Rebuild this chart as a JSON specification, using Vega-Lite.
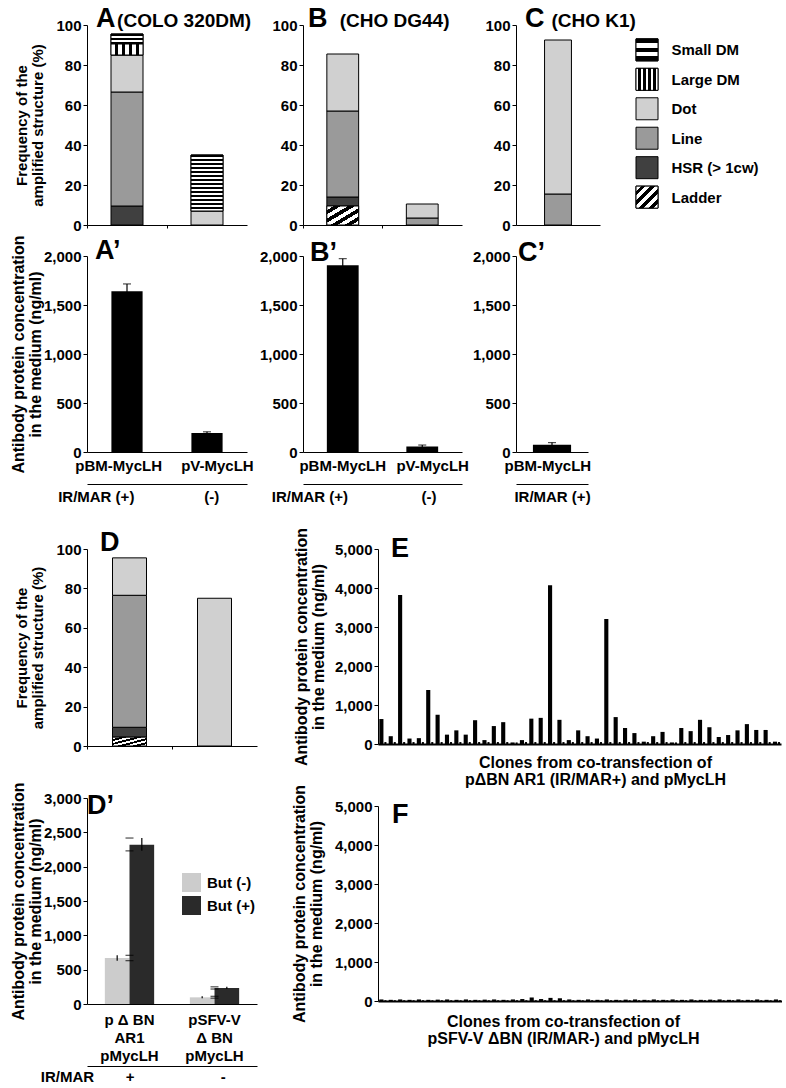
{
 "$schema": "https://vega.github.io/schema/vega-lite/v6.json",
 "background": "white",
 "padding": {"left": 10, "top": 5, "right": 0, "bottom": 0},
 "params": [
  {"name": "gSmall", "value": {"gradient": "linear", "x1": 0, "y1": 0, "x2": 0, "y2": 1, "stops": [{"offset": 0, "color": "#000"}, {"offset": 0.2, "color": "#000"}, {"offset": 0.2, "color": "#fff"}, {"offset": 0.4, "color": "#fff"}, {"offset": 0.4, "color": "#000"}, {"offset": 0.6, "color": "#000"}, {"offset": 0.6, "color": "#fff"}, {"offset": 0.8, "color": "#fff"}, {"offset": 0.8, "color": "#000"}, {"offset": 1, "color": "#000"}]}},
  {"name": "gLarge", "value": {"gradient": "linear", "x1": 0, "y1": 0, "x2": 1, "y2": 0, "stops": [{"offset": 0, "color": "#fff"}, {"offset": 0.111, "color": "#fff"}, {"offset": 0.111, "color": "#000"}, {"offset": 0.222, "color": "#000"}, {"offset": 0.222, "color": "#fff"}, {"offset": 0.333, "color": "#fff"}, {"offset": 0.333, "color": "#000"}, {"offset": 0.444, "color": "#000"}, {"offset": 0.444, "color": "#fff"}, {"offset": 0.556, "color": "#fff"}, {"offset": 0.556, "color": "#000"}, {"offset": 0.667, "color": "#000"}, {"offset": 0.667, "color": "#fff"}, {"offset": 0.778, "color": "#fff"}, {"offset": 0.778, "color": "#000"}, {"offset": 0.889, "color": "#000"}, {"offset": 0.889, "color": "#fff"}, {"offset": 1, "color": "#fff"}]}},
  {"name": "gLadder", "value": {"gradient": "linear", "x1": 0, "y1": 0, "x2": 1, "y2": 1, "stops": [{"offset": 0, "color": "#fff"}, {"offset": 0.111, "color": "#fff"}, {"offset": 0.111, "color": "#000"}, {"offset": 0.222, "color": "#000"}, {"offset": 0.222, "color": "#fff"}, {"offset": 0.333, "color": "#fff"}, {"offset": 0.333, "color": "#000"}, {"offset": 0.444, "color": "#000"}, {"offset": 0.444, "color": "#fff"}, {"offset": 0.556, "color": "#fff"}, {"offset": 0.556, "color": "#000"}, {"offset": 0.667, "color": "#000"}, {"offset": 0.667, "color": "#fff"}, {"offset": 0.778, "color": "#fff"}, {"offset": 0.778, "color": "#000"}, {"offset": 0.889, "color": "#000"}, {"offset": 0.889, "color": "#fff"}, {"offset": 1, "color": "#fff"}]}},
  {"name": "gSmall14", "value": {"gradient": "linear", "x1": 0, "y1": 0, "x2": 0, "y2": 1, "stops": [{"offset":0,"color":"#000"},{"offset":0.0357,"color":"#000"},{"offset":0.0357,"color":"#fff"},{"offset":0.0714,"color":"#fff"},{"offset":0.0714,"color":"#000"},{"offset":0.1071,"color":"#000"},{"offset":0.1071,"color":"#fff"},{"offset":0.1429,"color":"#fff"},{"offset":0.1429,"color":"#000"},{"offset":0.1786,"color":"#000"},{"offset":0.1786,"color":"#fff"},{"offset":0.2143,"color":"#fff"},{"offset":0.2143,"color":"#000"},{"offset":0.25,"color":"#000"},{"offset":0.25,"color":"#fff"},{"offset":0.2857,"color":"#fff"},{"offset":0.2857,"color":"#000"},{"offset":0.3214,"color":"#000"},{"offset":0.3214,"color":"#fff"},{"offset":0.3571,"color":"#fff"},{"offset":0.3571,"color":"#000"},{"offset":0.3929,"color":"#000"},{"offset":0.3929,"color":"#fff"},{"offset":0.4286,"color":"#fff"},{"offset":0.4286,"color":"#000"},{"offset":0.4643,"color":"#000"},{"offset":0.4643,"color":"#fff"},{"offset":0.5,"color":"#fff"},{"offset":0.5,"color":"#000"},{"offset":0.5357,"color":"#000"},{"offset":0.5357,"color":"#fff"},{"offset":0.5714,"color":"#fff"},{"offset":0.5714,"color":"#000"},{"offset":0.6071,"color":"#000"},{"offset":0.6071,"color":"#fff"},{"offset":0.6429,"color":"#fff"},{"offset":0.6429,"color":"#000"},{"offset":0.6786,"color":"#000"},{"offset":0.6786,"color":"#fff"},{"offset":0.7143,"color":"#fff"},{"offset":0.7143,"color":"#000"},{"offset":0.75,"color":"#000"},{"offset":0.75,"color":"#fff"},{"offset":0.7857,"color":"#fff"},{"offset":0.7857,"color":"#000"},{"offset":0.8214,"color":"#000"},{"offset":0.8214,"color":"#fff"},{"offset":0.8571,"color":"#fff"},{"offset":0.8571,"color":"#000"},{"offset":0.8929,"color":"#000"},{"offset":0.8929,"color":"#fff"},{"offset":0.9286,"color":"#fff"},{"offset":0.9286,"color":"#000"},{"offset":0.9643,"color":"#000"},{"offset":0.9643,"color":"#fff"},{"offset":1,"color":"#fff"}]}}
 ],
 "config": {
  "font": "Liberation Sans",
  "view": {"stroke": null},
  "axis": {"domainColor": "#000", "tickColor": "#000", "labelColor": "#000", "titleColor": "#000", "labelFontSize": 15, "labelFontWeight": "bold", "titleFontSize": 16, "titleFontWeight": "bold", "titleLineHeight": 17, "grid": false, "tickSize": 4, "labelPadding": 2, "labelAngle": 0, "labelOverlap": false, "labelLimit": 300},
  "title": {"fontSize": 27, "fontWeight": "bold", "anchor": "start", "frame": "group", "color": "#000", "subtitleColor": "#000", "subtitleFontSize": 19, "subtitleFontWeight": "bold"},
  "legend": {"labelFontSize": 15, "labelFontWeight": "bold", "labelColor": "#000", "padding": 0}
 },
 "datasets": {
  "structures": [
   {"structure": "Small DM"}, {"structure": "Large DM"}, {"structure": "Dot"}, {"structure": "Line"}, {"structure": "HSR (> 1cw)"}, {"structure": "Ladder"}
  ],
  "freq": [
   {"panel": "A", "construct": "pBM-MycLH", "structure": "HSR (> 1cw)", "start": 0, "end": 9.5},
   {"panel": "A", "construct": "pBM-MycLH", "structure": "Line", "start": 9.5, "end": 66.5},
   {"panel": "A", "construct": "pBM-MycLH", "structure": "Dot", "start": 66.5, "end": 85},
   {"panel": "A", "construct": "pBM-MycLH", "structure": "Large DM", "start": 85, "end": 90.5},
   {"panel": "A", "construct": "pBM-MycLH", "structure": "Small DM", "start": 90.5, "end": 95.5},
   {"panel": "A", "construct": "pV-MycLH", "structure": "Dot", "start": 0, "end": 7},
   {"panel": "A", "construct": "pV-MycLH", "structure": "Small DM", "start": 7, "end": 35},
   {"panel": "B", "construct": "pBM-MycLH", "structure": "Ladder", "start": 0, "end": 9.5},
   {"panel": "B", "construct": "pBM-MycLH", "structure": "HSR (> 1cw)", "start": 9.5, "end": 14},
   {"panel": "B", "construct": "pBM-MycLH", "structure": "Line", "start": 14, "end": 57},
   {"panel": "B", "construct": "pBM-MycLH", "structure": "Dot", "start": 57, "end": 85.5},
   {"panel": "B", "construct": "pV-MycLH", "structure": "Line", "start": 0, "end": 3.5},
   {"panel": "B", "construct": "pV-MycLH", "structure": "Dot", "start": 3.5, "end": 10.5},
   {"panel": "C", "construct": "pBM-MycLH", "structure": "Line", "start": 0, "end": 15.5},
   {"panel": "C", "construct": "pBM-MycLH", "structure": "Dot", "start": 15.5, "end": 92.5},
   {"panel": "D", "construct": "pΔBN AR1 pMycLH", "structure": "Ladder", "start": 0, "end": 4.5},
   {"panel": "D", "construct": "pΔBN AR1 pMycLH", "structure": "HSR (> 1cw)", "start": 4.5, "end": 9.5},
   {"panel": "D", "construct": "pΔBN AR1 pMycLH", "structure": "Line", "start": 9.5, "end": 76.5},
   {"panel": "D", "construct": "pΔBN AR1 pMycLH", "structure": "Dot", "start": 76.5, "end": 95.5},
   {"panel": "D", "construct": "pSFV-V ΔBN pMycLH", "structure": "Dot", "start": 0, "end": 75}
  ],
  "ab": [
   {"panel": "A", "construct": "pBM-MycLH", "value": 1641, "lo": 1570, "hi": 1715},
   {"panel": "A", "construct": "pV-MycLH", "value": 195, "lo": 185, "hi": 206},
   {"panel": "B", "construct": "pBM-MycLH", "value": 1905, "lo": 1835, "hi": 1973},
   {"panel": "B", "construct": "pV-MycLH", "value": 55, "lo": 40, "hi": 71},
   {"panel": "C", "construct": "pBM-MycLH", "value": 75, "lo": 55, "hi": 96}
  ],
  "dprime": [
   {"construct": "pΔBN AR1 pMycLH", "butyrate": "But (-)", "value": 670, "lo": 631, "hi": 709},
   {"construct": "pΔBN AR1 pMycLH", "butyrate": "But (+)", "value": 2320, "lo": 2230, "hi": 2417},
   {"construct": "pSFV-V ΔBN pMycLH", "butyrate": "But (-)", "value": 97, "lo": 85, "hi": 112},
   {"construct": "pSFV-V ΔBN pMycLH", "butyrate": "But (+)", "value": 233, "lo": 218, "hi": 250}
  ],
  "E": [
   {"clone": 1, "kind": "main", "value": 640}, {"clone": 1, "kind": "stub", "value": 50},
   {"clone": 2, "kind": "main", "value": 200}, {"clone": 2, "kind": "stub", "value": 50},
   {"clone": 3, "kind": "main", "value": 3820}, {"clone": 3, "kind": "stub", "value": 50},
   {"clone": 4, "kind": "main", "value": 140}, {"clone": 4, "kind": "stub", "value": 50},
   {"clone": 5, "kind": "main", "value": 150}, {"clone": 5, "kind": "stub", "value": 50},
   {"clone": 6, "kind": "main", "value": 1385}, {"clone": 6, "kind": "stub", "value": 50},
   {"clone": 7, "kind": "main", "value": 750}, {"clone": 7, "kind": "stub", "value": 50},
   {"clone": 8, "kind": "main", "value": 240}, {"clone": 8, "kind": "stub", "value": 50},
   {"clone": 9, "kind": "main", "value": 350}, {"clone": 9, "kind": "stub", "value": 50},
   {"clone": 10, "kind": "main", "value": 240}, {"clone": 10, "kind": "stub", "value": 50},
   {"clone": 11, "kind": "main", "value": 610}, {"clone": 11, "kind": "stub", "value": 50},
   {"clone": 12, "kind": "main", "value": 100}, {"clone": 12, "kind": "stub", "value": 50},
   {"clone": 13, "kind": "main", "value": 460}, {"clone": 13, "kind": "stub", "value": 50},
   {"clone": 14, "kind": "main", "value": 560}, {"clone": 14, "kind": "stub", "value": 50},
   {"clone": 15, "kind": "main", "value": 40}, {"clone": 15, "kind": "stub", "value": 40},
   {"clone": 16, "kind": "main", "value": 100}, {"clone": 16, "kind": "stub", "value": 50},
   {"clone": 17, "kind": "main", "value": 650}, {"clone": 17, "kind": "stub", "value": 50},
   {"clone": 18, "kind": "main", "value": 670}, {"clone": 18, "kind": "stub", "value": 50},
   {"clone": 19, "kind": "main", "value": 4070}, {"clone": 19, "kind": "stub", "value": 50},
   {"clone": 20, "kind": "main", "value": 620}, {"clone": 20, "kind": "stub", "value": 50},
   {"clone": 21, "kind": "main", "value": 100}, {"clone": 21, "kind": "stub", "value": 50},
   {"clone": 22, "kind": "main", "value": 350}, {"clone": 22, "kind": "stub", "value": 50},
   {"clone": 23, "kind": "main", "value": 200}, {"clone": 23, "kind": "stub", "value": 50},
   {"clone": 24, "kind": "main", "value": 140}, {"clone": 24, "kind": "stub", "value": 50},
   {"clone": 25, "kind": "main", "value": 3205}, {"clone": 25, "kind": "stub", "value": 50},
   {"clone": 26, "kind": "main", "value": 690}, {"clone": 26, "kind": "stub", "value": 50},
   {"clone": 27, "kind": "main", "value": 410}, {"clone": 27, "kind": "stub", "value": 50},
   {"clone": 28, "kind": "main", "value": 280}, {"clone": 28, "kind": "stub", "value": 50},
   {"clone": 29, "kind": "main", "value": 60}, {"clone": 29, "kind": "stub", "value": 50},
   {"clone": 30, "kind": "main", "value": 200}, {"clone": 30, "kind": "stub", "value": 50},
   {"clone": 31, "kind": "main", "value": 310}, {"clone": 31, "kind": "stub", "value": 50},
   {"clone": 32, "kind": "main", "value": 40}, {"clone": 32, "kind": "stub", "value": 40},
   {"clone": 33, "kind": "main", "value": 410}, {"clone": 33, "kind": "stub", "value": 50},
   {"clone": 34, "kind": "main", "value": 330}, {"clone": 34, "kind": "stub", "value": 50},
   {"clone": 35, "kind": "main", "value": 620}, {"clone": 35, "kind": "stub", "value": 50},
   {"clone": 36, "kind": "main", "value": 430}, {"clone": 36, "kind": "stub", "value": 50},
   {"clone": 37, "kind": "main", "value": 180}, {"clone": 37, "kind": "stub", "value": 50},
   {"clone": 38, "kind": "main", "value": 230}, {"clone": 38, "kind": "stub", "value": 50},
   {"clone": 39, "kind": "main", "value": 350}, {"clone": 39, "kind": "stub", "value": 50},
   {"clone": 40, "kind": "main", "value": 510}, {"clone": 40, "kind": "stub", "value": 50},
   {"clone": 41, "kind": "main", "value": 360}, {"clone": 41, "kind": "stub", "value": 50},
   {"clone": 42, "kind": "main", "value": 360}, {"clone": 42, "kind": "stub", "value": 50},
   {"clone": 43, "kind": "main", "value": 60}, {"clone": 43, "kind": "stub", "value": 50}
  ],
  "F": [
   {"clone": 1, "kind": "main", "value": 40}, {"clone": 1, "kind": "stub", "value": 20},
   {"clone": 2, "kind": "main", "value": 30}, {"clone": 2, "kind": "stub", "value": 20},
   {"clone": 3, "kind": "main", "value": 40}, {"clone": 3, "kind": "stub", "value": 20},
   {"clone": 4, "kind": "main", "value": 30}, {"clone": 4, "kind": "stub", "value": 20},
   {"clone": 5, "kind": "main", "value": 40}, {"clone": 5, "kind": "stub", "value": 20},
   {"clone": 6, "kind": "main", "value": 30}, {"clone": 6, "kind": "stub", "value": 20},
   {"clone": 7, "kind": "main", "value": 35}, {"clone": 7, "kind": "stub", "value": 20},
   {"clone": 8, "kind": "main", "value": 40}, {"clone": 8, "kind": "stub", "value": 20},
   {"clone": 9, "kind": "main", "value": 30}, {"clone": 9, "kind": "stub", "value": 20},
   {"clone": 10, "kind": "main", "value": 40}, {"clone": 10, "kind": "stub", "value": 20},
   {"clone": 11, "kind": "main", "value": 30}, {"clone": 11, "kind": "stub", "value": 20},
   {"clone": 12, "kind": "main", "value": 35}, {"clone": 12, "kind": "stub", "value": 20},
   {"clone": 13, "kind": "main", "value": 40}, {"clone": 13, "kind": "stub", "value": 20},
   {"clone": 14, "kind": "main", "value": 30}, {"clone": 14, "kind": "stub", "value": 20},
   {"clone": 15, "kind": "main", "value": 40}, {"clone": 15, "kind": "stub", "value": 20},
   {"clone": 16, "kind": "main", "value": 50}, {"clone": 16, "kind": "stub", "value": 20},
   {"clone": 17, "kind": "main", "value": 90}, {"clone": 17, "kind": "stub", "value": 20},
   {"clone": 18, "kind": "main", "value": 50}, {"clone": 18, "kind": "stub", "value": 20},
   {"clone": 19, "kind": "main", "value": 80}, {"clone": 19, "kind": "stub", "value": 20},
   {"clone": 20, "kind": "main", "value": 70}, {"clone": 20, "kind": "stub", "value": 20},
   {"clone": 21, "kind": "main", "value": 40}, {"clone": 21, "kind": "stub", "value": 20},
   {"clone": 22, "kind": "main", "value": 30}, {"clone": 22, "kind": "stub", "value": 20},
   {"clone": 23, "kind": "main", "value": 40}, {"clone": 23, "kind": "stub", "value": 20},
   {"clone": 24, "kind": "main", "value": 30}, {"clone": 24, "kind": "stub", "value": 20},
   {"clone": 25, "kind": "main", "value": 40}, {"clone": 25, "kind": "stub", "value": 20},
   {"clone": 26, "kind": "main", "value": 30}, {"clone": 26, "kind": "stub", "value": 20},
   {"clone": 27, "kind": "main", "value": 35}, {"clone": 27, "kind": "stub", "value": 20},
   {"clone": 28, "kind": "main", "value": 40}, {"clone": 28, "kind": "stub", "value": 20},
   {"clone": 29, "kind": "main", "value": 30}, {"clone": 29, "kind": "stub", "value": 20},
   {"clone": 30, "kind": "main", "value": 40}, {"clone": 30, "kind": "stub", "value": 20},
   {"clone": 31, "kind": "main", "value": 30}, {"clone": 31, "kind": "stub", "value": 20},
   {"clone": 32, "kind": "main", "value": 40}, {"clone": 32, "kind": "stub", "value": 20},
   {"clone": 33, "kind": "main", "value": 30}, {"clone": 33, "kind": "stub", "value": 20},
   {"clone": 34, "kind": "main", "value": 40}, {"clone": 34, "kind": "stub", "value": 20},
   {"clone": 35, "kind": "main", "value": 30}, {"clone": 35, "kind": "stub", "value": 20},
   {"clone": 36, "kind": "main", "value": 35}, {"clone": 36, "kind": "stub", "value": 20},
   {"clone": 37, "kind": "main", "value": 40}, {"clone": 37, "kind": "stub", "value": 20},
   {"clone": 38, "kind": "main", "value": 30}, {"clone": 38, "kind": "stub", "value": 20},
   {"clone": 39, "kind": "main", "value": 40}, {"clone": 39, "kind": "stub", "value": 20},
   {"clone": 40, "kind": "main", "value": 30}, {"clone": 40, "kind": "stub", "value": 20},
   {"clone": 41, "kind": "main", "value": 40}, {"clone": 41, "kind": "stub", "value": 20},
   {"clone": 42, "kind": "main", "value": 30}, {"clone": 42, "kind": "stub", "value": 20},
   {"clone": 43, "kind": "main", "value": 40}, {"clone": 43, "kind": "stub", "value": 20}
  ]
 },
 "resolve": {"scale": {"fill": "independent"}, "legend": {"fill": "independent"}},
 "spacing": 23,
 "vconcat": [
  {
   "resolve": {"scale": {"fill": "independent"}, "legend": {"fill": "independent"}},
   "spacing": 5,
   "hconcat": [
    {
     "resolve": {"scale": {"fill": "independent"}, "legend": {"fill": "independent"}},
     "bounds": "flush",
     "spacing": 31,
     "vconcat": [
      {
       "width": 160, "height": 200,
       "title": {"text": "A", "subtitle": "\u200b\u00a0\u00a0\u00a0\u00a0(COLO 320DM)", "subtitlePadding": -21, "offset": -15, "dx": 9},
       "data": {"name": "freq"},
       "transform": [{"filter": "datum.panel === 'A'"}],
       "encoding": {
        "x": {"field": "construct", "type": "nominal", "sort": ["pBM-MycLH", "pV-MycLH"], "scale": {"paddingInner": 0, "paddingOuter": 0}, "axis": {"title": null, "labels": false, "bandPosition": 0, "tickSize": 3}},
        "y": {"field": "start", "type": "quantitative", "scale": {"domain": [0, 100]}, "axis": {"values": [0, 20, 40, 60, 80, 100], "title": ["Frequency of the", "amplified structure (%)"], "titleFontSize": 15, "titleLineHeight": 16, "titlePadding": 10}},
        "y2": {"field": "end"}
       },
       "layer": [
        {"mark": {"type": "bar", "stroke": "#000", "strokeWidth": 1, "width": {"band": 0.4}},
         "encoding": {"fill": {"field": "structure", "type": "nominal", "legend": null, "scale": {"domain": ["Small DM", "Large DM", "Dot", "Line", "HSR (> 1cw)", "Ladder"], "range": ["#ffffff", "#ffffff", "#d0d0d0", "#9a9a9a", "#404040", "#ffffff"]}}}},
        {"transform": [{"filter": "datum.structure === 'Small DM' && datum.construct === 'pBM-MycLH'"}],
         "mark": {"type": "bar", "stroke": "#000", "strokeWidth": 1, "width": {"band": 0.4}, "fill": {"expr": "gSmall"}}},
        {"transform": [{"filter": "datum.structure === 'Small DM' && datum.construct === 'pV-MycLH'"}],
         "mark": {"type": "bar", "stroke": "#000", "strokeWidth": 1, "width": {"band": 0.4}, "fill": {"expr": "gSmall14"}}},
        {"transform": [{"filter": "datum.structure === 'Large DM'"}],
         "mark": {"type": "bar", "stroke": "#000", "strokeWidth": 1, "width": {"band": 0.4}, "fill": {"expr": "gLarge"}}}
       ]
      },
      {
       "width": 160, "height": 196,
       "title": {"text": "A\u2019", "offset": -30, "dx": 8},
       "data": {"name": "ab"},
       "transform": [{"filter": "datum.panel === 'A'"}],
       "encoding": {"x": {"field": "construct", "type": "nominal", "sort": ["pBM-MycLH", "pV-MycLH"], "scale": {"paddingInner": 0, "paddingOuter": 0}, "axis": {"title": null, "ticks": false, "labelPadding": 6, "labelExpr": "datum.value === 'pBM-MycLH' ? 'pBM-MycLH\u00a0\u00a0\u00a0\u00a0\u200b' : '\u200b\u00a0\u00a0\u00a0\u00a0\u00a0pV-MycLH'"}}},
       "layer": [
        {"mark": {"type": "bar", "color": "#000", "width": {"band": 0.39}}, "encoding": {"y": {"field": "value", "type": "quantitative", "scale": {"domain": [0, 2000]}, "axis": {"values": [0, 500, 1000, 1500, 2000], "format": ",.0f", "title": ["Antibody protein concentration", "in the medium (ng/ml)"], "titlePadding": 0}}}},
        {"mark": {"type": "rule", "color": "#000", "strokeWidth": 1.2}, "encoding": {"y": {"field": "lo", "type": "quantitative"}, "y2": {"field": "hi"}}},
        {"mark": {"type": "tick", "color": "#000", "thickness": 1.2, "size": 8}, "encoding": {"y": {"field": "hi", "type": "quantitative"}}}
       ]
      },
      {
       "width": 160, "height": 1,
       "data": {"values": [{"g": "IR/MAR (+)"}, {"g": "(-)"}]},
       "mark": {"type": "point", "opacity": 0},
       "encoding": {"x": {"field": "g", "type": "nominal", "sort": null, "axis": {"title": null, "ticks": false, "labelPadding": 5, "labelExpr": "datum.value === 'IR/MAR (+)' ? 'IR/MAR (+)\u00a0\u00a0\u00a0\u00a0\u00a0\u00a0\u00a0\u00a0\u00a0\u00a0\u00a0\u00a0\u00a0\u00a0\u00a0\u200b' : '\u200b\u00a0\u00a0(-)'"}}}
      }
     ]
    },
    {
     "resolve": {"scale": {"fill": "independent"}, "legend": {"fill": "independent"}},
     "spacing": 3,
     "hconcat": [
      {
       "resolve": {"scale": {"fill": "independent"}, "legend": {"fill": "independent"}},
       "bounds": "flush",
       "spacing": 31,
       "vconcat": [
        {
         "width": 159, "height": 200,
         "title": {"text": "B", "subtitle": "\u200b\u00a0\u00a0\u00a0\u00a0\u00a0\u00a0(CHO DG44)", "subtitlePadding": -21, "offset": -15, "dx": 5},
         "data": {"name": "freq"},
         "transform": [{"filter": "datum.panel === 'B'"}],
         "encoding": {
          "x": {"field": "construct", "type": "nominal", "sort": ["pBM-MycLH", "pV-MycLH"], "scale": {"paddingInner": 0, "paddingOuter": 0}, "axis": {"title": null, "labels": false, "bandPosition": 0, "tickSize": 3}},
          "y": {"field": "start", "type": "quantitative", "scale": {"domain": [0, 100]}, "axis": {"values": [0, 20, 40, 60, 80, 100], "title": null}},
          "y2": {"field": "end"}
         },
         "layer": [
          {"mark": {"type": "bar", "stroke": "#000", "strokeWidth": 1, "width": {"band": 0.4}},
           "encoding": {"fill": {"field": "structure", "type": "nominal", "legend": null, "scale": {"domain": ["Small DM", "Large DM", "Dot", "Line", "HSR (> 1cw)", "Ladder"], "range": ["#ffffff", "#ffffff", "#d0d0d0", "#9a9a9a", "#404040", "#ffffff"]}}}},
          {"transform": [{"filter": "datum.structure === 'Ladder'"}],
           "mark": {"type": "bar", "stroke": "#000", "strokeWidth": 1, "width": {"band": 0.4}, "fill": {"expr": "gLadder"}}}
         ]
        },
        {
         "width": 159, "height": 196,
         "title": {"text": "B\u2019", "offset": -18, "dx": 7},
         "data": {"name": "ab"},
         "transform": [{"filter": "datum.panel === 'B'"}],
         "encoding": {"x": {"field": "construct", "type": "nominal", "sort": ["pBM-MycLH", "pV-MycLH"], "scale": {"paddingInner": 0, "paddingOuter": 0}, "axis": {"title": null, "ticks": false, "labelPadding": 6, "labelExpr": "datum.value === 'pBM-MycLH' ? 'pBM-MycLH' : '\u200b\u00a0\u00a0\u00a0\u00a0\u00a0pV-MycLH'"}}},
         "layer": [
          {"mark": {"type": "bar", "color": "#000", "width": {"band": 0.4}}, "encoding": {"y": {"field": "value", "type": "quantitative", "scale": {"domain": [0, 2000]}, "axis": {"values": [0, 500, 1000, 1500, 2000], "format": ",.0f", "title": null}}}},
          {"mark": {"type": "rule", "color": "#000", "strokeWidth": 1.2}, "encoding": {"y": {"field": "lo", "type": "quantitative"}, "y2": {"field": "hi"}}},
          {"mark": {"type": "tick", "color": "#000", "thickness": 1.2, "size": 8}, "encoding": {"y": {"field": "hi", "type": "quantitative"}}}
         ]
        },
        {
         "width": 159, "height": 1,
         "data": {"values": [{"g": "IR/MAR (+)"}, {"g": "(-)"}]},
         "mark": {"type": "point", "opacity": 0},
         "encoding": {"x": {"field": "g", "type": "nominal", "sort": null, "axis": {"title": null, "ticks": false, "labelPadding": 5, "labelExpr": "datum.value === 'IR/MAR (+)' ? 'IR/MAR (+)\u00a0\u00a0\u00a0\u00a0\u00a0\u00a0\u00a0\u00a0\u00a0\u00a0\u00a0\u00a0\u00a0\u00a0\u00a0\u00a0\u200b' : '\u200b\u00a0\u00a0\u00a0(-)'"}}}
        }
       ]
      },
      {
       "resolve": {"scale": {"fill": "independent"}, "legend": {"fill": "independent"}},
       "spacing": -33,
       "hconcat": [
        {
         "resolve": {"scale": {"fill": "independent"}, "legend": {"fill": "independent"}},
         "bounds": "flush",
         "spacing": 31,
         "vconcat": [
          {
           "width": 84, "height": 200,
           "title": {"text": "C", "subtitle": "\u200b\u00a0\u00a0\u00a0\u00a0\u00a0(CHO K1)", "subtitlePadding": -21, "offset": -15, "dx": 9},
           "data": {"name": "freq"},
           "transform": [{"filter": "datum.panel === 'C'"}],
           "mark": {"type": "bar", "stroke": "#000", "strokeWidth": 1, "width": {"band": 0.32}},
           "encoding": {
            "x": {"field": "construct", "type": "nominal", "scale": {"paddingInner": 0, "paddingOuter": 0}, "axis": {"title": null, "labels": false, "ticks": false}},
            "y": {"field": "start", "type": "quantitative", "scale": {"domain": [0, 100]}, "axis": {"values": [0, 20, 40, 60, 80, 100], "title": null}},
            "y2": {"field": "end"},
            "fill": {"field": "structure", "type": "nominal", "legend": null,
             "scale": {"domain": ["Small DM", "Large DM", "Dot", "Line", "HSR (> 1cw)", "Ladder"], "range": ["#ffffff", "#ffffff", "#d0d0d0", "#9a9a9a", "#404040", "#ffffff"]}}
           }
          },
          {
           "width": 72, "height": 196,
           "title": {"text": "C\u2019", "offset": -18, "dx": 2},
           "data": {"name": "ab"},
           "transform": [{"filter": "datum.panel === 'C'"}],
           "encoding": {"x": {"field": "construct", "type": "nominal", "scale": {"paddingInner": 0, "paddingOuter": 0}, "axis": {"title": null, "ticks": false, "labelPadding": 6, "labelExpr": "'pBM-MycLH\u00a0\u00a0\u200b'"}}},
           "layer": [
            {"mark": {"type": "bar", "color": "#000", "width": {"band": 0.53}}, "encoding": {"y": {"field": "value", "type": "quantitative", "scale": {"domain": [0, 2000]}, "axis": {"values": [0, 500, 1000, 1500, 2000], "format": ",.0f", "title": null}}}},
            {"mark": {"type": "rule", "color": "#000", "strokeWidth": 1.2}, "encoding": {"y": {"field": "lo", "type": "quantitative"}, "y2": {"field": "hi"}}},
            {"mark": {"type": "tick", "color": "#000", "thickness": 1.2, "size": 8}, "encoding": {"y": {"field": "hi", "type": "quantitative"}}}
           ]
          },
          {
           "width": 72, "height": 1,
           "data": {"values": [{"g": "IR/MAR (+)"}]},
           "mark": {"type": "point", "opacity": 0},
           "encoding": {"x": {"field": "g", "type": "nominal", "axis": {"title": null, "ticks": false, "labelPadding": 5}}}
          }
         ]
        },
        {
         "width": 22, "height": 197,
         "data": {"name": "structures"},
         "encoding": {
          "y": {"field": "structure", "type": "nominal", "sort": ["Small DM", "Large DM", "Dot", "Line", "HSR (> 1cw)", "Ladder"], "scale": {"type": "point", "padding": 0.844}, "axis": {"orient": "right", "title": null, "domain": false, "ticks": false, "labelPadding": 13, "labelFontSize": 15}}
         },
         "layer": [
          {"mark": {"type": "square", "size": 484, "stroke": "#000", "strokeWidth": 1, "opacity": 1},
           "encoding": {"fill": {"field": "structure", "type": "nominal", "legend": null, "scale": {"domain": ["Small DM", "Large DM", "Dot", "Line", "HSR (> 1cw)", "Ladder"], "range": ["#ffffff", "#ffffff", "#d0d0d0", "#9a9a9a", "#404040", "#ffffff"]}}}},
          {"transform": [{"filter": "datum.structure === 'Small DM'"}],
           "mark": {"type": "square", "size": 484, "stroke": "#000", "strokeWidth": 1, "opacity": 1, "fill": {"expr": "gSmall"}}},
          {"transform": [{"filter": "datum.structure === 'Large DM'"}],
           "mark": {"type": "square", "size": 484, "stroke": "#000", "strokeWidth": 1, "opacity": 1, "fill": {"expr": "gLarge"}}},
          {"transform": [{"filter": "datum.structure === 'Ladder'"}],
           "mark": {"type": "square", "size": 484, "stroke": "#000", "strokeWidth": 1, "opacity": 1, "fill": {"expr": "gLadder"}}}
         ]
        }
       ]
      }
     ]
    }
   ]
  },
  {
   "resolve": {"scale": {"fill": "independent"}, "legend": {"fill": "independent"}},
   "spacing": 34,
   "hconcat": [
    {
     "resolve": {"scale": {"fill": "independent"}, "legend": {"fill": "independent"}},
     "bounds": "flush",
     "spacing": 52,
     "vconcat": [
      {
       "width": 170, "height": 197,
       "title": {"text": "D", "offset": -15, "dx": 13},
       "data": {"name": "freq"},
       "transform": [{"filter": "datum.panel === 'D'"}],
       "encoding": {
        "x": {"field": "construct", "type": "nominal", "sort": ["pΔBN AR1 pMycLH", "pSFV-V ΔBN pMycLH"], "scale": {"paddingInner": 0, "paddingOuter": 0}, "axis": {"title": null, "labels": false, "bandPosition": 0, "tickSize": 3}},
        "y": {"field": "start", "type": "quantitative", "scale": {"domain": [0, 100]}, "axis": {"values": [0, 20, 40, 60, 80, 100], "title": ["Frequency of the", "amplified structure (%)"], "titleFontSize": 15, "titleLineHeight": 16, "titlePadding": 10}},
        "y2": {"field": "end"}
       },
       "layer": [
        {"mark": {"type": "bar", "stroke": "#000", "strokeWidth": 1, "width": {"band": 0.4}},
         "encoding": {"fill": {"field": "structure", "type": "nominal", "legend": null, "scale": {"domain": ["Small DM", "Large DM", "Dot", "Line", "HSR (> 1cw)", "Ladder"], "range": ["#ffffff", "#ffffff", "#d0d0d0", "#9a9a9a", "#404040", "#ffffff"]}}}},
        {"transform": [{"filter": "datum.structure === 'Ladder'"}],
         "mark": {"type": "bar", "stroke": "#000", "strokeWidth": 1, "width": {"band": 0.4}, "fill": {"expr": "gLadder"}}}
       ]
      },
      {
       "width": 170, "height": 206,
       "title": {"text": "D\u2019", "offset": -38, "dx": 0},
       "data": {"name": "dprime"},
       "encoding": {
        "y": {"field": "value", "type": "quantitative", "scale": {"domain": [0, 3000]}, "axis": {"values": [0, 500, 1000, 1500, 2000, 2500, 3000], "format": ",.0f", "title": ["Antibody protein concentration", "in the medium (ng/ml)"], "titlePadding": 0}}
       },
       "layer": [
        {"transform": [{"filter": "datum.butyrate === 'But (-)'"}],
         "mark": {"type": "bar"},
         "encoding": {
          "x": {"field": "construct", "type": "nominal", "sort": ["pΔBN AR1 pMycLH", "pSFV-V ΔBN pMycLH"], "bandPosition": 0, "scale": {"paddingInner": 0.42, "paddingOuter": 0.21}, "axis": {"title": null, "ticks": false, "labelPadding": 8, "labelLineHeight": 18, "labelExpr": "datum.value === 'pΔBN AR1 pMycLH' ? ['p Δ BN', 'AR1', 'pMycLH'] : ['pSFV-V', 'Δ BN', 'pMycLH']"}},
          "x2": {"field": "construct", "bandPosition": 0.5},
          "y2": {"datum": 0},
          "fill": {"field": "butyrate", "type": "nominal", "scale": {"domain": ["But (-)", "But (+)"], "range": ["#cccccc", "#2a2a2a"]},
           "legend": {"orient": "none", "legendX": 95, "legendY": 75, "title": null, "symbolType": "square", "symbolSize": 361, "symbolStrokeWidth": 0, "rowPadding": 4, "labelOffset": 6, "labelFontSize": 15, "labelFontWeight": "bold"}}
         }},
        {"transform": [{"filter": "datum.butyrate === 'But (+)'"}],
         "mark": {"type": "bar"},
         "encoding": {
          "x": {"field": "construct", "type": "nominal", "sort": ["pΔBN AR1 pMycLH", "pSFV-V ΔBN pMycLH"], "bandPosition": 0.5},
          "x2": {"field": "construct", "bandPosition": 1},
          "y2": {"datum": 0},
          "fill": {"field": "butyrate", "type": "nominal", "scale": {"domain": ["But (-)", "But (+)"], "range": ["#cccccc", "#2a2a2a"]},
           "legend": {"orient": "none", "legendX": 95, "legendY": 75, "title": null, "symbolType": "square", "symbolSize": 361, "symbolStrokeWidth": 0, "rowPadding": 4, "labelOffset": 6, "labelFontSize": 15, "labelFontWeight": "bold"}}
         }},
        {"transform": [{"filter": "datum.butyrate === 'But (-)'"}],
         "mark": {"type": "rule", "color": "#000", "strokeWidth": 1.2},
         "encoding": {"x": {"field": "construct", "type": "nominal", "sort": ["pΔBN AR1 pMycLH", "pSFV-V ΔBN pMycLH"], "bandPosition": 0.25}, "y": {"field": "lo", "type": "quantitative"}, "y2": {"field": "hi"}}},
        {"transform": [{"filter": "datum.butyrate === 'But (+)'"}],
         "mark": {"type": "rule", "color": "#000", "strokeWidth": 1.2},
         "encoding": {"x": {"field": "construct", "type": "nominal", "sort": ["pΔBN AR1 pMycLH", "pSFV-V ΔBN pMycLH"], "bandPosition": 0.75}, "y": {"field": "lo", "type": "quantitative"}, "y2": {"field": "hi"}}},
        {"transform": [{"filter": "datum.butyrate === 'But (-)'"}],
         "mark": {"type": "tick", "color": "#000", "thickness": 1.2, "size": 8},
         "encoding": {"x": {"field": "construct", "type": "nominal", "sort": ["pΔBN AR1 pMycLH", "pSFV-V ΔBN pMycLH"], "bandPosition": 0.25}, "y": {"field": "lo", "type": "quantitative"}}},
        {"transform": [{"filter": "datum.butyrate === 'But (-)'"}],
         "mark": {"type": "tick", "color": "#000", "thickness": 1.2, "size": 8},
         "encoding": {"x": {"field": "construct", "type": "nominal", "sort": ["pΔBN AR1 pMycLH", "pSFV-V ΔBN pMycLH"], "bandPosition": 0.25}, "y": {"field": "hi", "type": "quantitative"}}},
        {"transform": [{"filter": "datum.butyrate === 'But (+)'"}],
         "mark": {"type": "tick", "color": "#000", "thickness": 1.2, "size": 8},
         "encoding": {"x": {"field": "construct", "type": "nominal", "sort": ["pΔBN AR1 pMycLH", "pSFV-V ΔBN pMycLH"], "bandPosition": 0.75}, "y": {"field": "lo", "type": "quantitative"}}},
        {"transform": [{"filter": "datum.butyrate === 'But (+)'"}],
         "mark": {"type": "tick", "color": "#000", "thickness": 1.2, "size": 8},
         "encoding": {"x": {"field": "construct", "type": "nominal", "sort": ["pΔBN AR1 pMycLH", "pSFV-V ΔBN pMycLH"], "bandPosition": 0.75}, "y": {"field": "hi", "type": "quantitative"}}}
       ]
      },
      {
       "width": 170, "height": 10,
       "data": {"values": [{"g": "+"}, {"g": "-"}]},
       "mark": {"type": "point", "opacity": 0},
       "encoding": {"x": {"field": "g", "type": "nominal", "sort": null, "axis": {"title": "IR/MAR", "titleX": -20, "titleY": 3, "titleAlign": "center", "titleBaseline": "top", "titleFontSize": 15, "ticks": false, "labelPadding": 3, "labelExpr": "datum.value === '-' ? '\u200b\u00a0\u00a0\u00a0\u00a0-' : '+'", "encode": {"domain": {"x": {"value": -35}}}}}}
      }
     ]
    },
    {
     "resolve": {"scale": {"fill": "independent"}, "legend": {"fill": "independent"}},
     "bounds": "flush",
     "spacing": 62,
     "vconcat": [
      {
       "width": 403, "height": 195,
       "title": {"text": "E", "offset": -36, "dx": 13},
       "data": {"name": "E"},
       "encoding": {
        "y": {"field": "value", "type": "quantitative", "scale": {"domain": [0, 5000]}, "axis": {"values": [0, 1000, 2000, 3000, 4000, 5000], "format": ",.0f", "title": ["Antibody protein concentration", "in the medium (ng/ml)"], "titlePadding": 8}},
        "y2": {"datum": 0}
       },
       "layer": [
        {"transform": [{"filter": "datum.kind === 'main'"}],
         "mark": {"type": "bar", "color": "#000"},
         "encoding": {
          "x": {"field": "clone", "type": "ordinal", "bandPosition": 0.14, "scale": {"paddingInner": 0, "paddingOuter": 0}, "axis": {"labels": false, "ticks": false, "domainWidth": 2, "title": ["Clones from co-transfection of", "pΔBN AR1 (IR/MAR+) and pMycLH"], "titlePadding": 10, "titleX": 217, "titleAlign": "center"}},
          "x2": {"field": "clone", "bandPosition": 0.58}
         }},
        {"transform": [{"filter": "datum.kind === 'stub'"}],
         "mark": {"type": "bar", "color": "#000"},
         "encoding": {
          "x": {"field": "clone", "type": "ordinal", "bandPosition": 0.68},
          "x2": {"field": "clone", "bandPosition": 0.9}
         }}
       ]
      },
      {
       "width": 404, "height": 195,
       "title": {"text": "F", "offset": -45, "dx": 14},
       "data": {"name": "F"},
       "encoding": {
        "y": {"field": "value", "type": "quantitative", "scale": {"domain": [0, 5000]}, "axis": {"values": [0, 1000, 2000, 3000, 4000, 5000], "format": ",.0f", "title": ["Antibody protein concentration", "in the medium (ng/ml)"], "titlePadding": 10}},
        "y2": {"datum": 0}
       },
       "layer": [
        {"transform": [{"filter": "datum.kind === 'main'"}],
         "mark": {"type": "bar", "color": "#000"},
         "encoding": {
          "x": {"field": "clone", "type": "ordinal", "bandPosition": 0.14, "scale": {"paddingInner": 0, "paddingOuter": 0}, "axis": {"labels": false, "ticks": false, "domainWidth": 2, "title": ["Clones from co-transfection of", "pSFV-V ΔBN  (IR/MAR-) and pMycLH"], "titlePadding": 12, "titleX": 185, "titleAlign": "center"}},
          "x2": {"field": "clone", "bandPosition": 0.58}
         }},
        {"transform": [{"filter": "datum.kind === 'stub'"}],
         "mark": {"type": "bar", "color": "#000"},
         "encoding": {
          "x": {"field": "clone", "type": "ordinal", "bandPosition": 0.68},
          "x2": {"field": "clone", "bandPosition": 0.9}
         }}
       ]
      }
     ]
    }
   ]
  }
 ]
}
